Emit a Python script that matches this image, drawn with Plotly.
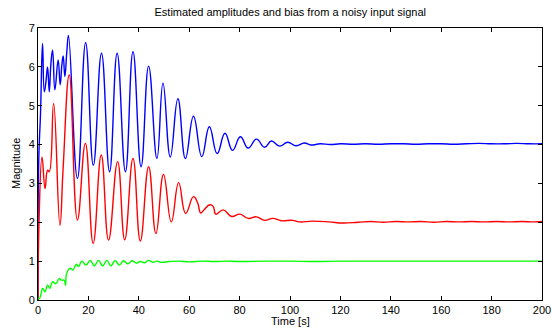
import plotly.graph_objects as go

# ---- data ----
blue_t = [0, 0.3, 1.0, 1.8, 2.5, 3.16, 3.8, 4.47, 5.13, 5.79, 6.7, 8.0, 8.8, 9.47, 10.0, 10.65, 11.44, 12.1,
          15.65, 18.9, 21.96, 25.2, 28.4, 31.4, 34.7, 37.7, 40.9, 43.9, 47.2, 49.6, 52.5, 55.5, 58.5,
          61.7, 65.0, 68.0, 71.1, 74.2, 77.2, 80.3, 83.4, 86.7, 89.9, 92.6, 95.9, 99.1, 102.4, 105.7,
          108.3, 112, 116, 120, 125, 130, 135, 140, 145, 150, 155, 160, 165, 170, 175, 180, 185, 190, 195, 200]
blue_v = [0, 3.6, 4.8, 6.60, 5.36, 5.62, 6.0, 5.36, 6.09, 6.43, 5.41, 6.18, 5.54, 6.05, 6.28, 5.75, 6.39, 6.81,
          3.13, 6.62, 3.47, 6.35, 3.30, 6.35, 3.30, 6.39, 3.43, 6.02, 3.64, 5.58, 3.68, 5.18, 3.64,
          4.73, 3.69, 4.46, 3.77, 4.29, 3.85, 4.20, 3.91, 4.14, 3.93, 4.09, 3.96, 4.06, 3.97, 4.04,
          3.99, 4.02, 4.0, 4.02, 4.01, 4.02, 4.01, 4.02, 4.02, 4.01, 4.02, 4.02, 4.01, 4.02, 4.03, 4.02, 4.02, 4.03, 4.02, 4.02]

red_t = [0, 0.4, 1.6, 2.8, 3.8, 4.47, 6.2, 8.7, 10.0, 12.4, 15.65, 18.8, 21.9, 25.1, 28.0, 31.6, 34.4,
         37.7, 40.6, 43.9, 46.8, 49.8, 52.9, 55.8, 58.6, 61.7, 63.3, 64.6, 66, 68.2, 69.5, 70.6, 73.5,
         76.8, 80.1, 83.4, 86.7, 89.9, 93.2, 96.5, 101, 103.7, 109, 115.6, 120.8, 127, 132, 137, 142,
         147, 152, 157, 162, 167, 172, 177, 182, 187, 192, 197, 200]
red_v = [0, 2.0, 3.68, 2.87, 3.34, 3.30, 5.06, 1.92, 3.43, 5.79, 2.06, 4.03, 1.46, 3.73, 1.54, 3.56, 1.55,
         3.64, 1.52, 3.43, 1.71, 3.23, 2.01, 3.02, 2.23, 2.66, 2.51, 2.24, 2.33, 2.45, 2.41, 2.21, 2.32,
         2.15, 2.21, 2.10, 2.14, 2.05, 2.10, 2.04, 2.05, 2.01, 2.03, 2.01, 1.98, 2.00, 2.02, 2.0, 2.02,
         2.01, 2.02, 2.0, 2.02, 2.01, 2.02, 2.01, 2.02, 2.01, 2.02, 2.01, 2.02]

green_t = [0, 0.5, 1.0, 1.84, 2.76, 3.8, 4.7, 5.8, 7.1, 8.4, 9.3, 10.4, 10.9, 11.4, 12.8, 13.8, 15.2,
           16.1, 17.4, 19.1, 20.7, 22.4, 24.0, 25.7, 27.3, 28.9, 30.6, 32.3, 33.9, 35.7, 37.3, 39.0,
           40.6, 42.3, 43.9, 45.6, 47.2, 48.9, 52, 56, 60, 65, 70, 75, 80, 90, 100, 110, 120, 130, 140,
           150, 160, 170, 180, 190, 200]
green_v = [0.05, 0.03, 0.1, 0.30, 0.21, 0.38, 0.30, 0.47, 0.42, 0.55, 0.51, 0.51, 0.38, 0.69, 0.82, 0.77, 0.92,
           0.86, 1.0, 0.90, 1.02, 0.88, 1.02, 0.88, 1.02, 0.88, 1.01, 0.90, 1.01, 0.93, 1.01, 0.95,
           0.99, 0.96, 1.02, 0.97, 1.0, 0.97, 0.99, 1.0, 0.98, 1.0, 0.99, 1.0, 0.99, 1.0, 1.0, 0.99, 1.0, 1.0, 1.0,
           1.0, 1.0, 1.0, 1.0, 1.0, 1.0]

title_text = "Estimated amplitudes and bias from a noisy input signal"
x_label = "Time [s]"
y_label = "Magnitude"
x_ticks = [0, 20, 40, 60, 80, 100, 120, 140, 160, 180, 200]
y_ticks = [0, 1, 2, 3, 4, 5, 6, 7]

FONT = "Liberation Sans, Arial, Helvetica, sans-serif"
W, H = 553, 333
ML, MR, MT, MB = 38, 10.5, 28, 33
PW, PH = W - ML - MR, H - MT - MB

fig = go.Figure()
for t, v, c in [(blue_t, blue_v, "#0000ff"), (red_t, red_v, "#ff0000"), (green_t, green_v, "#00ff00")]:
    fig.add_trace(go.Scatter(x=t, y=v, mode="lines",
                             line=dict(color=c, width=1.4, shape="spline", smoothing=1.3),
                             showlegend=False, hoverinfo="skip"))

axis_common = dict(showgrid=False, zeroline=False, showline=True, linecolor="black", linewidth=1,
                   mirror="ticks", ticks="inside", ticklen=4, tickwidth=1, tickcolor="black",
                   automargin=False,
                   tickfont=dict(family=FONT, size=11, color="black"))

fig.update_layout(
    width=W, height=H,
    margin=dict(l=ML, r=MR, t=MT, b=MB),
    paper_bgcolor="white", plot_bgcolor="white",
    title=dict(text=title_text, x=(ML + PW / 2) / W, xanchor="center",
               y=1 - 12 / H, yanchor="middle", yref="container",
               font=dict(family=FONT, size=11, color="black")),
    xaxis=dict(range=[0, 200], tickvals=x_ticks, ticktext=[str(v) for v in x_ticks], **axis_common),
    yaxis=dict(range=[0, 7], tickvals=y_ticks, ticktext=[str(v) for v in y_ticks], **axis_common),
    annotations=[
        dict(text=x_label, xref="paper", yref="paper", x=0.5, y=-(321 - (H - MB)) / PH,
             xanchor="center", yanchor="middle", showarrow=False,
             font=dict(family=FONT, size=11, color="black")),
        dict(text=y_label, xref="paper", yref="paper", x=-(ML - 16) / PW,
             y=0.5 - (164 - (MT + PH / 2)) / PH,
             xanchor="center", yanchor="middle", textangle=-90, showarrow=False,
             font=dict(family=FONT, size=11, color="black")),
    ],
)

fig.write_html("out.html", config={"displayModeBar": False, "staticPlot": True},
               post_script="document.body.style.margin='0';document.body.style.overflow='hidden';")
